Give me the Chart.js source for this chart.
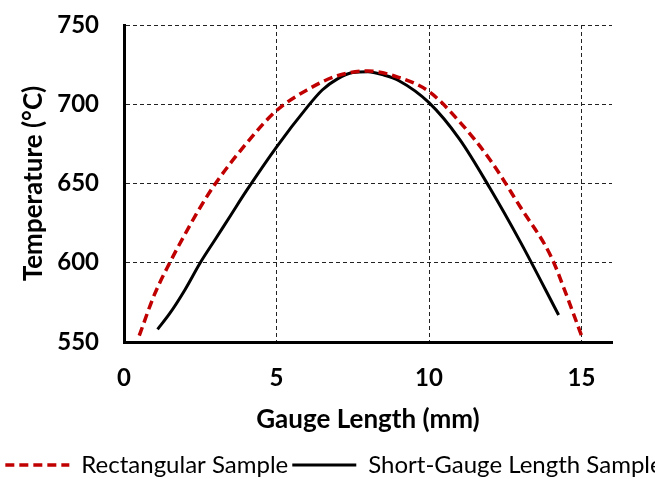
<!DOCTYPE html>
<html>
<head>
<meta charset="utf-8">
<script src="https://cdn.jsdelivr.net/npm/chart.js@4/dist/chart.umd.min.js"></script>
<style>
  html, body { margin: 0; padding: 0; background: #fff; overflow: hidden; }
  #wrap { width: 668px; height: 479px; }
</style>
</head>
<body>
<div id="wrap"><canvas id="c"></canvas></div>
<script>
// Temperature profile along the gauge length
const seriesNames = ['Rectangular Sample', 'Short-Gauge Length Sample'];
const rectGauge = [0.5, 1.0, 1.5, 2.0, 2.5, 3.0, 4.0, 5.0, 6.0, 7.0, 8.0, 9.0, 10.0, 11.0, 12.0, 13.0, 14.0, 14.5, 15.0];
const rectTemp  = [554, 580, 600, 618, 635, 650, 675, 696, 709, 718, 721, 717, 708, 689, 665, 635, 604, 580, 554];
const sgGauge = [1.1, 1.5, 2.0, 2.5, 3.0, 3.5, 4.0, 5.0, 6.0, 6.5, 7.0, 7.5, 8.0, 8.5, 9.0, 10.0, 11.0, 12.0, 13.0, 14.25];
const sgTemp  = [558, 568, 583, 600, 615, 630, 645, 673, 698, 709, 716, 720, 720.5, 718.5, 715, 701, 678, 647, 613, 567];
const xTicks = [0, 5, 10, 15];
const yTicks = [550, 600, 650, 700, 750];

const toPoints = (xs, ys) => xs.map((x, i) => ({ x: x, y: ys[i] }));

const FONT = 'Lato, "Open Sans", sans-serif';
const GRID_DASH = [4, 3];

new Chart(document.getElementById('c'), {
  type: 'line',
  data: {
    datasets: [
      {
        label: seriesNames[0],
        data: toPoints(rectGauge, rectTemp),
        borderColor: '#C00000',
        backgroundColor: '#C00000',
        borderWidth: 3.5,
        borderDash: [9, 5],
        pointRadius: 0,
        cubicInterpolationMode: 'monotone',
        fill: false
      },
      {
        label: seriesNames[1],
        data: toPoints(sgGauge, sgTemp),
        borderColor: '#000000',
        backgroundColor: '#000000',
        borderWidth: 3,
        borderDash: [],
        pointRadius: 0,
        cubicInterpolationMode: 'monotone',
        fill: false
      }
    ]
  },
  options: {
    responsive: true,
    maintainAspectRatio: false,
    animation: false,
    layout: { padding: { left: 0, right: 0, top: 25, bottom: -8 } },
    plugins: {
      tooltip: { enabled: false },
      legend: {
        position: 'bottom',
        labels: {
          usePointStyle: true,
          pointStyle: 'line',
          pointStyleWidth: 64,
          boxHeight: 24,
          padding: 4,
          color: '#000',
          font: { family: FONT, size: 24 },
          // legend samples use each series' own line style
          generateLabels: (chart) =>
            Chart.defaults.plugins.legend.labels.generateLabels(chart).map((item) => {
              const ds = chart.data.datasets[item.datasetIndex];
              return Object.assign(item, {
                strokeStyle: ds.borderColor,
                lineWidth: ds.borderWidth,
                lineDash: ds.borderDash,
                pointStyle: 'line'
              });
            })
        }
      }
    },
    scales: {
      x: {
        type: 'linear',
        min: 0,
        max: 16,
        afterBuildTicks: (scale) => { scale.ticks = xTicks.map(v => ({ value: v })); },
        afterFit: (scale) => { scale.height = 107; },
        grid: { color: '#222', lineWidth: 1, drawTicks: false },
        border: { display: true, color: '#000', width: 3, dash: GRID_DASH },
        ticks: { padding: 22, color: '#000', font: { family: FONT, size: 24, weight: 'bold' } },
        title: {
          display: true,
          text: 'Gauge Length (mm)',
          color: '#000',
          padding: { top: 0, bottom: 14 },
          font: { family: FONT, size: 26, weight: 'bold' }
        }
      },
      y: {
        type: 'linear',
        min: 550,
        max: 750,
        afterBuildTicks: (scale) => { scale.ticks = yTicks.map(v => ({ value: v })); },
        afterFit: (scale) => {
          scale.width = 124;
          // keep the plot top fixed by the layout padding only
          scale.paddingTop = 0;
          scale.paddingBottom = 0;
        },
        grid: { color: '#222', lineWidth: 1, drawTicks: false },
        border: { display: true, color: '#000', width: 3, dash: GRID_DASH },
        ticks: { padding: 25, color: '#000', font: { family: FONT, size: 24, weight: 'bold' } },
        title: {
          display: true,
          text: 'Temperature (°C)',
          color: '#000',
          padding: { top: 18, bottom: 0 },
          font: { family: FONT, size: 26, weight: 'bold' }
        }
      },
      // empty margin on the right side of the plot
      yRight: {
        type: 'linear',
        position: 'right',
        min: 550,
        max: 750,
        grid: { display: false, drawOnChartArea: false },
        ticks: { display: false },
        border: { display: false },
        afterFit: (scale) => { scale.width = 56; scale.paddingTop = 0; scale.paddingBottom = 0; }
      }
    }
  }
});
</script>
</body>
</html>
